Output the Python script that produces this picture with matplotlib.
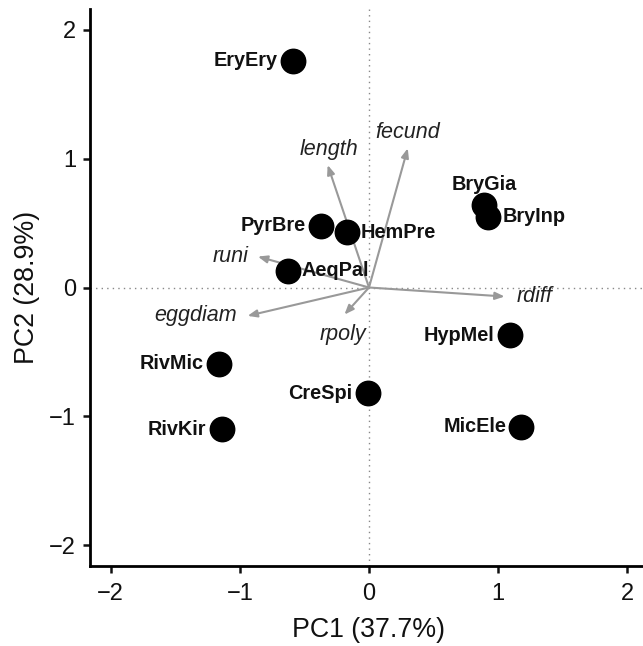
import matplotlib
matplotlib.use("Agg")
import matplotlib.pyplot as plt

plt.rcParams['font.family'] = ['Liberation Sans', 'DejaVu Sans']

species = ["EryEry", "PyrBre", "HemPre", "AeqPal", "BryGia", "BryInp",
           "HypMel", "CreSpi", "MicEle", "RivMic", "RivKir"]
pc1 = [-0.59, -0.37, -0.17, -0.63, 0.89, 0.92, 1.09, -0.01, 1.18, -1.16, -1.14]
pc2 = [1.76, 0.48, 0.43, 0.13, 0.64, 0.55, -0.37, -0.82, -1.08, -0.59, -1.10]

traits = ["length", "fecund", "rdiff", "rpoly", "runi", "eggdiam"]
load1 = [-0.32, 0.30, 1.05, -0.19, -0.86, -0.94]
load2 = [0.95, 1.08, -0.07, -0.21, 0.24, -0.22]

fig = plt.figure(figsize=(6.43, 6.46), dpi=100)
ax = fig.add_axes([90/643, (646-566)/646, (648-90)/643, (566-9)/646])

ax.axhline(0, color='#888888', lw=1, ls=(0, (1, 3)), zorder=1)
ax.axvline(0, color='#888888', lw=1, ls=(0, (1, 3)), zorder=1)

for t, a, b in zip(traits, load1, load2):
    ax.annotate("", xy=(a, b), xytext=(0, 0),
                arrowprops=dict(arrowstyle='-|>,head_length=0.55,head_width=0.22',
                                color='#999999', lw=1.5, shrinkA=0, shrinkB=0),
                zorder=2)

# trait label placements (offsets in points)
tlab = {
    "length": (1, 11, 'center', 'center'),
    "fecund": (0, 11, 'center', 'center'),
    "rdiff": (9, 0, 'left', 'center'),
    "rpoly": (-1, -14, 'center', 'center'),
    "runi": (-7, 0, 'right', 'center'),
    "eggdiam": (-8, 0, 'right', 'center'),
}
for t, a, b in zip(traits, load1, load2):
    dx, dy, ha, va = tlab[t]
    ax.annotate(t, xy=(a, b), xytext=(dx, dy), textcoords='offset points',
                ha=ha, va=va, fontsize=15.5, style='italic', color='#222222', zorder=3)

ax.scatter(pc1, pc2, s=310, color='black', zorder=4)

slab = {
    "EryEry": (-11, 0, 'right', 'center'),
    "PyrBre": (-11, 0, 'right', 'center'),
    "HemPre": (10, 0, 'left', 'center'),
    "AeqPal": (10, 0, 'left', 'center'),
    "BryGia": (0, 15, 'center', 'center'),
    "BryInp": (11, 0, 'left', 'center'),
    "HypMel": (-11, 0, 'right', 'center'),
    "CreSpi": (-11, 0, 'right', 'center'),
    "MicEle": (-11, 0, 'right', 'center'),
    "RivMic": (-11, 0, 'right', 'center'),
    "RivKir": (-11, 0, 'right', 'center'),
}
for s, a, b in zip(species, pc1, pc2):
    dx, dy, ha, va = slab[s]
    ax.annotate(s, xy=(a, b), xytext=(dx, dy), textcoords='offset points',
                ha=ha, va=va, fontsize=14.3, fontweight='bold', color='#111111', zorder=5)

ax.set_xlim(-2.16, 2.16)
ax.set_ylim(-2.16, 2.16)
ax.set_xticks([-2, -1, 0, 1, 2])
ax.set_yticks([-2, -1, 0, 1, 2])
ax.set_xticklabels(["\u22122", "\u22121", "0", "1", "2"])
ax.set_yticklabels(["\u22122", "\u22121", "0", "1", "2"])
for sp in ['top', 'right']:
    ax.spines[sp].set_visible(False)
for sp in ['left', 'bottom']:
    ax.spines[sp].set_linewidth(2.0)
ax.tick_params(width=1.8, length=5, labelsize=17, colors='#111111')
ax.tick_params(axis='x', pad=7)
ax.tick_params(axis='y', pad=5)
ax.set_xlabel("PC1 (37.7%)", fontsize=19.3, labelpad=9, color='#111111')
ax.set_ylabel("PC2 (28.9%)", fontsize=19.3, labelpad=7, color='#111111')

fig.savefig("out.png", dpi=100)
